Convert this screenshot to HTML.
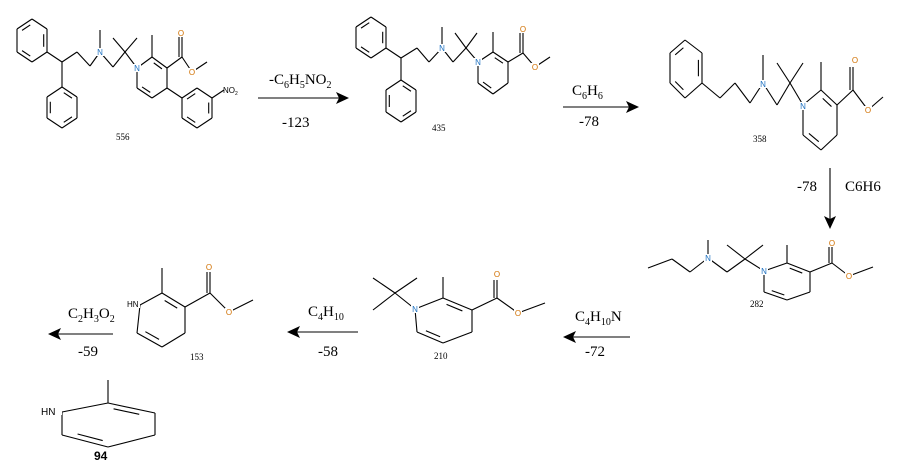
<!DOCTYPE html>
<html><head><meta charset="utf-8"><style>
html,body{margin:0;padding:0;background:#fff;width:899px;height:471px;overflow:hidden}
svg{display:block}
.b{stroke:#000;stroke-width:1.1;fill:none}
.at{font-family:"Liberation Sans",sans-serif;font-size:8px}
.n{fill:#1a6fc0}.o{fill:#d07000}
.t{font-family:"Liberation Serif",serif;font-size:15px;fill:#000}
.s{font-family:"Liberation Serif",serif;font-size:9px;fill:#000}
</style></head><body>
<svg id="g" width="899" height="471" viewBox="0 0 899 471" xmlns="http://www.w3.org/2000/svg">
<!-- arrows -->
<g class="b">
<line x1="258" y1="98" x2="340" y2="98"/>
<line x1="563" y1="107" x2="630" y2="107"/>
<line x1="830" y1="168" x2="830" y2="220"/>
<line x1="630" y1="337" x2="570" y2="337"/>
<line x1="358" y1="332" x2="294" y2="332"/>
<line x1="113" y1="334" x2="55" y2="334"/>
</g>
<g fill="#000">
<polygon points="349,98 336,92 339,98 336,104"/>
<polygon points="639,107 626,101 629,107 626,113"/>
<polygon points="830,229 824,216 830,219 836,216"/>
<polygon points="563,337 576,331 573,337 576,343"/>
<polygon points="287,332 300,326 297,332 300,338"/>
<polygon points="48,334 61,328 58,334 61,340"/>
</g>
<text class="t" x="269" y="84">-C<tspan font-size="10" dy="4">6</tspan><tspan dy="-4">H</tspan><tspan font-size="10" dy="4">5</tspan><tspan dy="-4">NO</tspan><tspan font-size="10" dy="4">2</tspan></text>
<text class="t" x="282" y="127">-123</text>
<text class="t" x="572" y="95">C<tspan font-size="10" dy="4">6</tspan><tspan dy="-4">H</tspan><tspan font-size="10" dy="4">6</tspan></text>
<text class="t" x="579" y="126">-78</text>
<text class="t" x="797" y="191">-78</text>
<text class="t" x="845" y="191">C6H6</text>
<text class="t" x="575" y="321">C<tspan font-size="10" dy="4">4</tspan><tspan dy="-4">H</tspan><tspan font-size="10" dy="4">10</tspan><tspan dy="-4">N</tspan></text>
<text class="t" x="585" y="356">-72</text>
<text class="t" x="308" y="316">C<tspan font-size="10" dy="4">4</tspan><tspan dy="-4">H</tspan><tspan font-size="10" dy="4">10</tspan></text>
<text class="t" x="318" y="356">-58</text>
<text class="t" x="68" y="318">C<tspan font-size="10" dy="4">2</tspan><tspan dy="-4">H</tspan><tspan font-size="10" dy="4">3</tspan><tspan dy="-4">O</tspan><tspan font-size="10" dy="4">2</tspan></text>
<text class="t" x="78" y="356">-59</text>
<text class="s" x="116" y="140">556</text>
<text class="s" x="432" y="131">435</text>
<text class="s" x="753" y="142">358</text>
<text class="s" x="750" y="307" font-family="Liberation Sans">282</text>
<text class="s" x="434" y="359" font-family="Liberation Sans">210</text>
<text class="s" x="190" y="360">153</text>
<text x="94" y="460" font-family="Liberation Sans" font-size="12" font-weight="bold">94</text>
<g id="d"></g>
</svg>
<script>
var G=document.getElementById('d'),NS='http://www.w3.org/2000/svg';
function L(a,b,c,d){var e=document.createElementNS(NS,'line');e.setAttribute('x1',a);e.setAttribute('y1',b);e.setAttribute('x2',c);e.setAttribute('y2',d);e.setAttribute('class','b');G.appendChild(e);}
function P(pts){for(var i=0;i<pts.length-1;i++)L(pts[i][0],pts[i][1],pts[i+1][0],pts[i+1][1]);}
function ring(v,dbl){for(var i=0;i<6;i++){var a=v[i],b=v[(i+1)%6];L(a[0],a[1],b[0],b[1]);}
 var cx=0,cy=0;v.forEach(function(p){cx+=p[0]/6;cy+=p[1]/6});
 dbl.forEach(function(i){var a=v[i],b=v[(i+1)%6];var f=0.22,s=0.15;
  var ax=a[0]+(cx-a[0])*f,ay=a[1]+(cy-a[1])*f,bx=b[0]+(cx-b[0])*f,by=b[1]+(cy-b[1])*f;
  L(ax+(bx-ax)*s,ay+(by-ay)*s,bx-(bx-ax)*s,by-(by-ay)*s);});}
function T(x,y,s,c,fs){var e=document.createElementNS(NS,'text');e.setAttribute('x',x);e.setAttribute('y',y);e.setAttribute('class','at '+c);e.setAttribute('text-anchor','middle');if(fs)e.setAttribute('font-size',fs);e.textContent=s;var r=document.createElementNS(NS,'rect');r.setAttribute('x',x-4);r.setAttribute('y',y-7);r.setAttribute('width',8);r.setAttribute('height',8);r.setAttribute('fill','#fff');G.appendChild(r);G.appendChild(e);}
function dbl(a,b,c,d,off){L(a,b,c,d);L(a+off,b,c+off,d);}
// 556
ring([[17,29],[32,19],[47,29],[47,52],[32,62],[17,52]],[0,2,4]);
P([[47,52],[62,62],[77,52],[90,66],[100,52],[113,67],[125,52]]);L(62,62,62,87);
ring([[62,87],[77,97],[77,118],[62,128],[47,118],[47,97]],[0,2,4]);
L(100,52,100,30);L(125,52,113,38);L(125,52,137,38);L(125,52,137,68);
ring([[137,68],[152,57],[167,68],[167,88],[152,98],[137,88]],[1,4]);
L(152,57,152,35);L(167,68,182,57);dbl(182,57,182,37,-3);P([[182,57],[192,72],[207,62]]);
L(167,88,182,98);ring([[182,98],[197,88],[212,98],[212,118],[197,128],[182,118]],[0,2,4]);
L(212,98,224,90);
T(100,55,'N','n');T(137,71,'N','n');T(181,36,'O','o');T(192,75,'O','o');
(function(){var e=document.createElementNS(NS,'text');e.setAttribute('x',223);e.setAttribute('y',93);e.setAttribute('class','at');e.setAttribute('font-size','7');e.innerHTML='NO<tspan font-size="5" dy="2">2</tspan>';G.appendChild(e);})();
// 435
ring([[356,27],[371,17],[386,27],[386,48],[371,58],[356,48]],[0,2,4]);
P([[386,48],[401,58],[417,48],[429,62],[442,48],[453,62],[466,48]]);L(401,58,401,80);
ring([[401,80],[416,90],[416,112],[401,122],[386,112],[386,90]],[0,2,4]);
L(442,48,442,27);L(466,48,455,33);L(466,48,477,33);L(466,48,478,62);
ring([[478,62],[493,52],[508,62],[508,83],[493,94],[478,83]],[1,4]);
L(493,52,493,32);L(508,62,523,53);dbl(523,53,523,33,-3);P([[523,53],[535,67],[550,57]]);
T(442,51,'N','n');T(478,65,'N','n');T(523,32,'O','o');T(535,70,'O','o');
// 358
ring([[670,53],[685,40],[702,53],[702,83],[685,98],[670,83]],[0,2,4]);
P([[702,83],[720,98],[735,83],[750,103],[763,83],[777,105],[790,83]]);
L(763,83,763,55);L(790,83,777,63);L(790,83,803,63);L(790,83,803,105);
ring([[803,105],[821,90],[837,105],[837,135],[821,150],[803,135]],[1,4]);
L(821,90,821,62);L(837,105,853,90);dbl(853,90,853,67,-3);P([[853,90],[868,110],[883,97]]);
T(763,87,'N','n',10);T(803,109,'N','n',10);T(855,63,'O','o',10);T(868,113,'O','o',10);
// 282
P([[648,268],[672,259],[690,272],[708,258],[727,272],[745,259]]);
L(708,258,708,240);L(745,259,727,245);L(745,259,763,245);L(745,259,764,271);
ring([[764,271],[787,263],[810,272],[810,292],[787,300],[764,292]],[1,4]);
L(787,263,787,245);L(810,272,832,263);dbl(832,263,832,247,-3);P([[832,263],[849,276],[873,267]]);
T(708,261,'N','n');T(764,274,'N','n');T(832,246,'O','o');T(849,279,'O','o');
// 210
L(395,293,373,278);L(395,293,417,278);L(395,293,373,310);L(395,293,415,309);
ring([[415,309],[443,298],[472,310],[472,332],[443,343],[417,332]],[1,4]);
L(443,298,443,277);L(472,310,497,298);dbl(497,298,497,280,-3);P([[497,298],[518,313],[545,303]]);
T(415,312,'N','n');T(497,277,'O','o');T(518,316,'O','o');
// 153
ring([[140,305],[162,293],[185,307],[185,333],[162,347],[137,333]],[1,4]);
L(162,293,162,268);L(185,307,210,293);dbl(210,293,210,272,-3);P([[210,293],[229,312],[253,300]]);
T(209,270,'O','o');T(229,315,'O','o');
(function(){var r=document.createElementNS(NS,'rect');r.setAttribute('x',127);r.setAttribute('y',299);r.setAttribute('width',13);r.setAttribute('height',9);r.setAttribute('fill','#fff');G.appendChild(r);var e=document.createElementNS(NS,'text');e.setAttribute('x',127);e.setAttribute('y',307);e.setAttribute('class','at');e.textContent='HN';G.appendChild(e);})();
// 94
ring([[62,412],[108,403],[155,413],[155,435],[108,447],[62,435]],[1,4]);
L(108,403,108,380);
(function(){var r=document.createElementNS(NS,'rect');r.setAttribute('x',40);r.setAttribute('y',405);r.setAttribute('width',22);r.setAttribute('height',10);r.setAttribute('fill','#fff');G.appendChild(r);var e=document.createElementNS(NS,'text');e.setAttribute('x',41);e.setAttribute('y',415);e.setAttribute('font-family','Liberation Sans');e.setAttribute('font-size','10');e.textContent='HN';G.appendChild(e);})();
</script>
</body></html>
